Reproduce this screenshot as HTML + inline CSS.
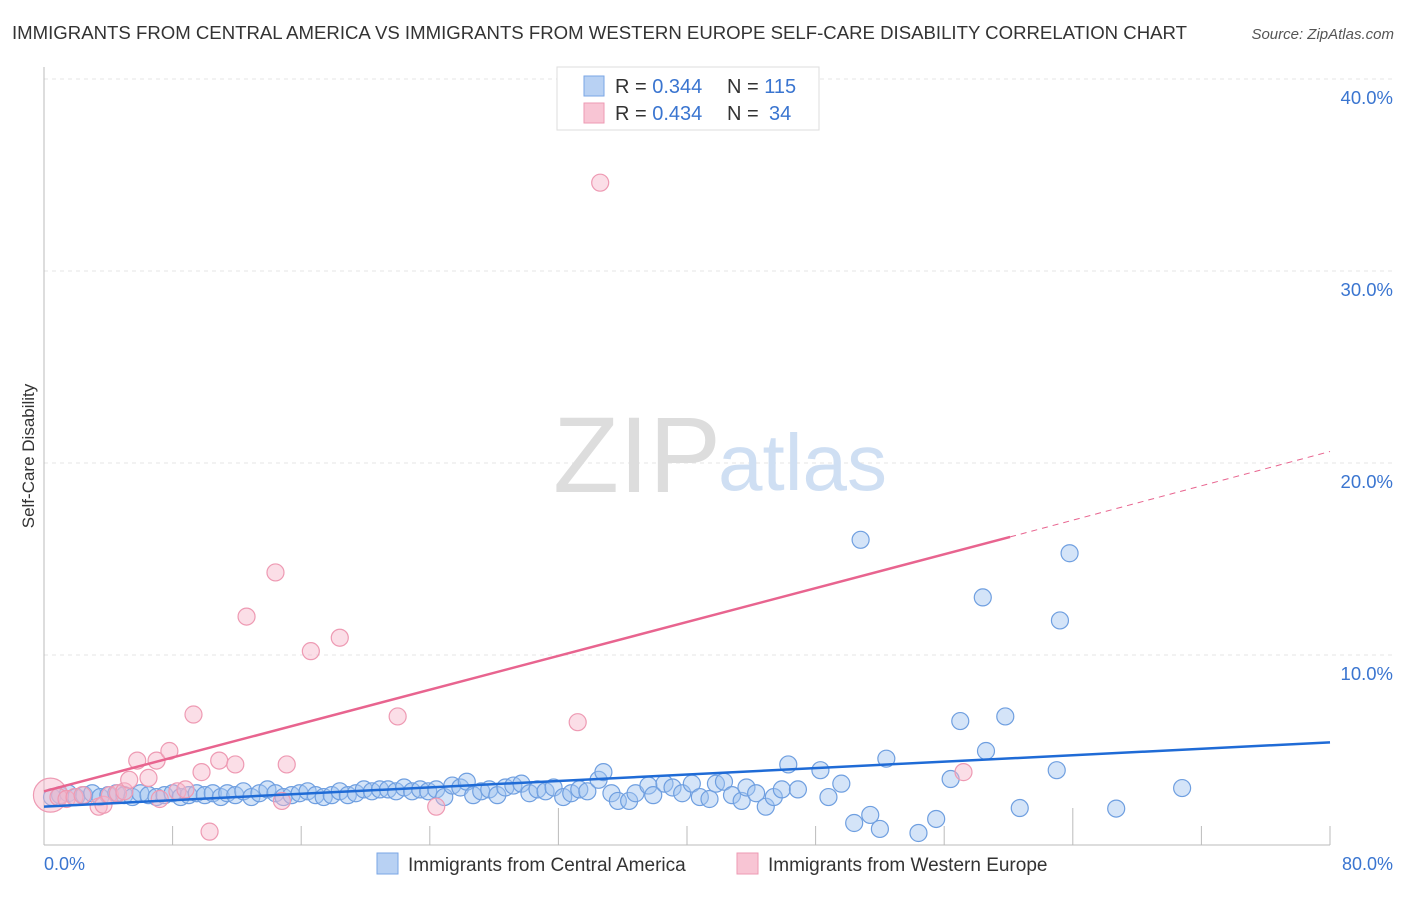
<!DOCTYPE html>
<html><head><meta charset="utf-8"><style>
body{margin:0;background:#fff;font-family:"Liberation Sans",sans-serif}
svg text{font-family:"Liberation Sans",sans-serif}
</style></head><body>
<svg id="chart" width="1406" height="892" viewBox="0 0 1406 892">
<text x="12" y="39" font-size="18.6" fill="#333">IMMIGRANTS FROM CENTRAL AMERICA VS IMMIGRANTS FROM WESTERN EUROPE SELF-CARE DISABILITY CORRELATION CHART</text>
<text x="1394" y="39" font-size="15" fill="#555" font-style="italic" text-anchor="end">Source: ZipAtlas.com</text>
<g id="grid"></g>
<text x="553" y="492" font-size="108" fill="#ddd" font-family="Liberation Serif">ZIP</text>
<text x="718" y="490" font-size="80" fill="#cfdff3">atlas</text>
<text transform="translate(34,456) rotate(-90)" font-size="17" fill="#333" text-anchor="middle">Self-Care Disability</text>
<g id="marks"></g>
<g>
<rect x="557" y="67" width="262" height="63" fill="#fff" stroke="#ddd"/>
<rect x="584" y="76" width="20" height="20" fill="#b8d1f3" stroke="#7aa6e6"/>
<rect x="584" y="103" width="20" height="20" fill="#f8c5d4" stroke="#ee9ab3"/>
<text x="615" y="93" font-size="20" fill="#333">R = <tspan fill="#3a75d0">0.344</tspan></text>
<text x="727" y="93" font-size="20" fill="#333">N = <tspan fill="#3a75d0">115</tspan></text>
<text x="615" y="120" font-size="20" fill="#333">R = <tspan fill="#3a75d0">0.434</tspan></text>
<text x="727" y="120" font-size="20" fill="#333">N = <tspan fill="#3a75d0" x="769">34</tspan></text>
</g>
<g>
<rect x="377" y="853" width="21" height="21" fill="#b8d1f3" stroke="#7aa6e6"/>
<text x="408" y="871" font-size="19" fill="#333">Immigrants from Central America</text>
<rect x="737" y="853" width="21" height="21" fill="#f8c5d4" stroke="#ee9ab3"/>
<text x="768" y="871" font-size="19" fill="#333">Immigrants from Western Europe</text>
</g>
<text x="44" y="870" font-size="18" fill="#3a75d0">0.0%</text>
<text x="1393" y="870" font-size="18" fill="#3a75d0" text-anchor="end">80.0%</text>
</svg>
<script>
const yTicks=[10,20,30,40];
const yTickLabels=["10.0%","20.0%","30.0%","40.0%"];
const blueX=[0.5,1,1.5,2,2.5,3,3.5,4,4.5,5,5.5,6,6.5,7,7.5,8,8.5,9,9.5,10,10.5,11,11.4,11.9,12.4,12.9,13.4,13.9,14.4,14.9,15.4,15.9,16.4,16.9,17.4,17.9,18.4,18.9,19.4,19.9,20.4,20.9,21.4,21.9,22.4,22.9,23.4,23.9,24.4,24.9,25.4,25.9,26.3,26.7,27.2,27.7,28.2,28.7,29.2,29.7,30.2,30.7,31.2,31.7,32.3,32.8,33.3,33.8,34.5,34.8,35.3,35.7,36.4,36.8,37.6,37.9,38.6,39.1,39.7,40.3,40.8,41.4,41.8,42.3,42.8,43.4,43.7,44.3,44.9,45.4,45.9,46.3,46.9,48.3,48.8,49.6,50.4,51.4,52,52.4,54.4,55.5,56.4,57,58.6,59.8,60.7,63,66.7,70.8,50.8,58.4,63.2,63.8];
const blueY=[2.6,2.7,2.8,2.6,2.7,2.8,2.6,2.7,2.8,2.7,2.6,2.8,2.7,2.6,2.7,2.8,2.6,2.7,2.8,2.7,2.8,2.6,2.8,2.7,2.9,2.6,2.8,3,2.8,2.6,2.7,2.8,2.9,2.7,2.6,2.7,2.9,2.7,2.8,3,2.9,3,3,2.9,3.1,2.9,3,2.9,3,2.6,3.2,3.1,3.4,2.7,2.9,3,2.7,3.1,3.2,3.3,2.8,3,2.9,3.1,2.6,2.8,3,2.9,3.5,3.9,2.8,2.4,2.4,2.8,3.2,2.7,3.3,3.1,2.8,3.3,2.6,2.5,3.3,3.4,2.7,2.4,3.1,2.8,2.1,2.6,3,4.3,3,4,2.6,3.3,1.25,1.67,0.94,4.6,0.73,1.46,3.54,6.56,5.0,6.8,2.03,4.0,2.0,3.07,16.0,13.0,11.8,15.3];
const pinkX=[0.4,0.9,1.4,1.9,2.4,3.4,3.7,4.1,4.6,5,5.3,5.8,6.5,7,7.2,7.8,8.3,8.8,9.3,9.8,10.3,10.9,11.9,12.6,14.4,14.8,15.1,16.6,18.4,22,24.4,33.2,34.6,57.2];
const pinkY=[2.7,2.6,2.5,2.6,2.7,2.1,2.2,2.7,2.8,2.9,3.5,4.5,3.6,4.5,2.5,5,2.9,3,6.9,3.9,0.8,4.5,4.3,12,14.3,2.4,4.3,10.2,10.9,6.8,2.1,6.5,34.6,3.9];
const blueTrend=[0,80,2.1,5.45];
const pinkTrend=[0,60.1,2.9,16.15,80,20.6];
const X0=44,X1=1330,Y0=847;
const sx=v=>X0+v*(X1-X0)/80, sy=v=>Y0-v*19.2;
const NS="http://www.w3.org/2000/svg";
function mk(tag,attrs,parent){const e=document.createElementNS(NS,tag);for(const k in attrs)e.setAttribute(k,attrs[k]);parent.appendChild(e);return e;}
const grid=document.getElementById('grid'),marks=document.getElementById('marks');
yTicks.forEach((t,i)=>{
 const l=mk('line',{x1:X0,x2:1393,y1:sy(t),y2:sy(t),stroke:'#e4e4e4','stroke-dasharray':'4,4'},grid);
 
 
 const tx=mk('text',{x:1393,y:sy(t)+25,'font-size':18.5,fill:'#3a75d0','text-anchor':'end'},grid);
 tx.textContent=yTickLabels[i];
 
 
});
const ax=mk('line',{x1:X0,x2:X0,y1:67,y2:845,stroke:'#bbb'},grid);


const bx=mk('line',{x1:X0,x2:X1,y1:845,y2:845,stroke:'#bbb'},grid);


for(let i=1;i<=10;i++){const x=sx(i*8);const tk=mk('line',{x1:x,x2:x,y1:(i%4==0?808:826),y2:845,stroke:'#bbb'},grid);
 
 }
blueX.forEach((v,i)=>{const c=mk('circle',{cx:sx(v),cy:sy(blueY[i]),r:8.5,fill:'rgba(160,196,240,0.45)',stroke:'#6f9fe0','stroke-width':1.2},marks);
 
 });
pinkX.forEach((v,i)=>{const c=mk('circle',{cx:sx(v),cy:sy(pinkY[i]),r:i==0?17:8.5,fill:'rgba(246,182,202,0.45)',stroke:'#ee9ab3','stroke-width':1.2},marks);
 
 });
const bl=mk('line',{x1:sx(blueTrend[0]),x2:sx(blueTrend[1]),y1:sy(blueTrend[2]),y2:sy(blueTrend[3]),stroke:'#1f6bd6','stroke-width':2.5},marks);


const pl=mk('line',{x1:sx(pinkTrend[0]),x2:sx(pinkTrend[1]),y1:sy(pinkTrend[2]),y2:sy(pinkTrend[3]),stroke:'#e8648f','stroke-width':2.5},marks);


const pd=mk('line',{x1:sx(pinkTrend[1]),x2:sx(pinkTrend[4]),y1:sy(pinkTrend[3]),y2:sy(pinkTrend[5]),stroke:'#e8648f','stroke-width':1,'stroke-dasharray':'6,5'},marks);


</script>
</body></html>
